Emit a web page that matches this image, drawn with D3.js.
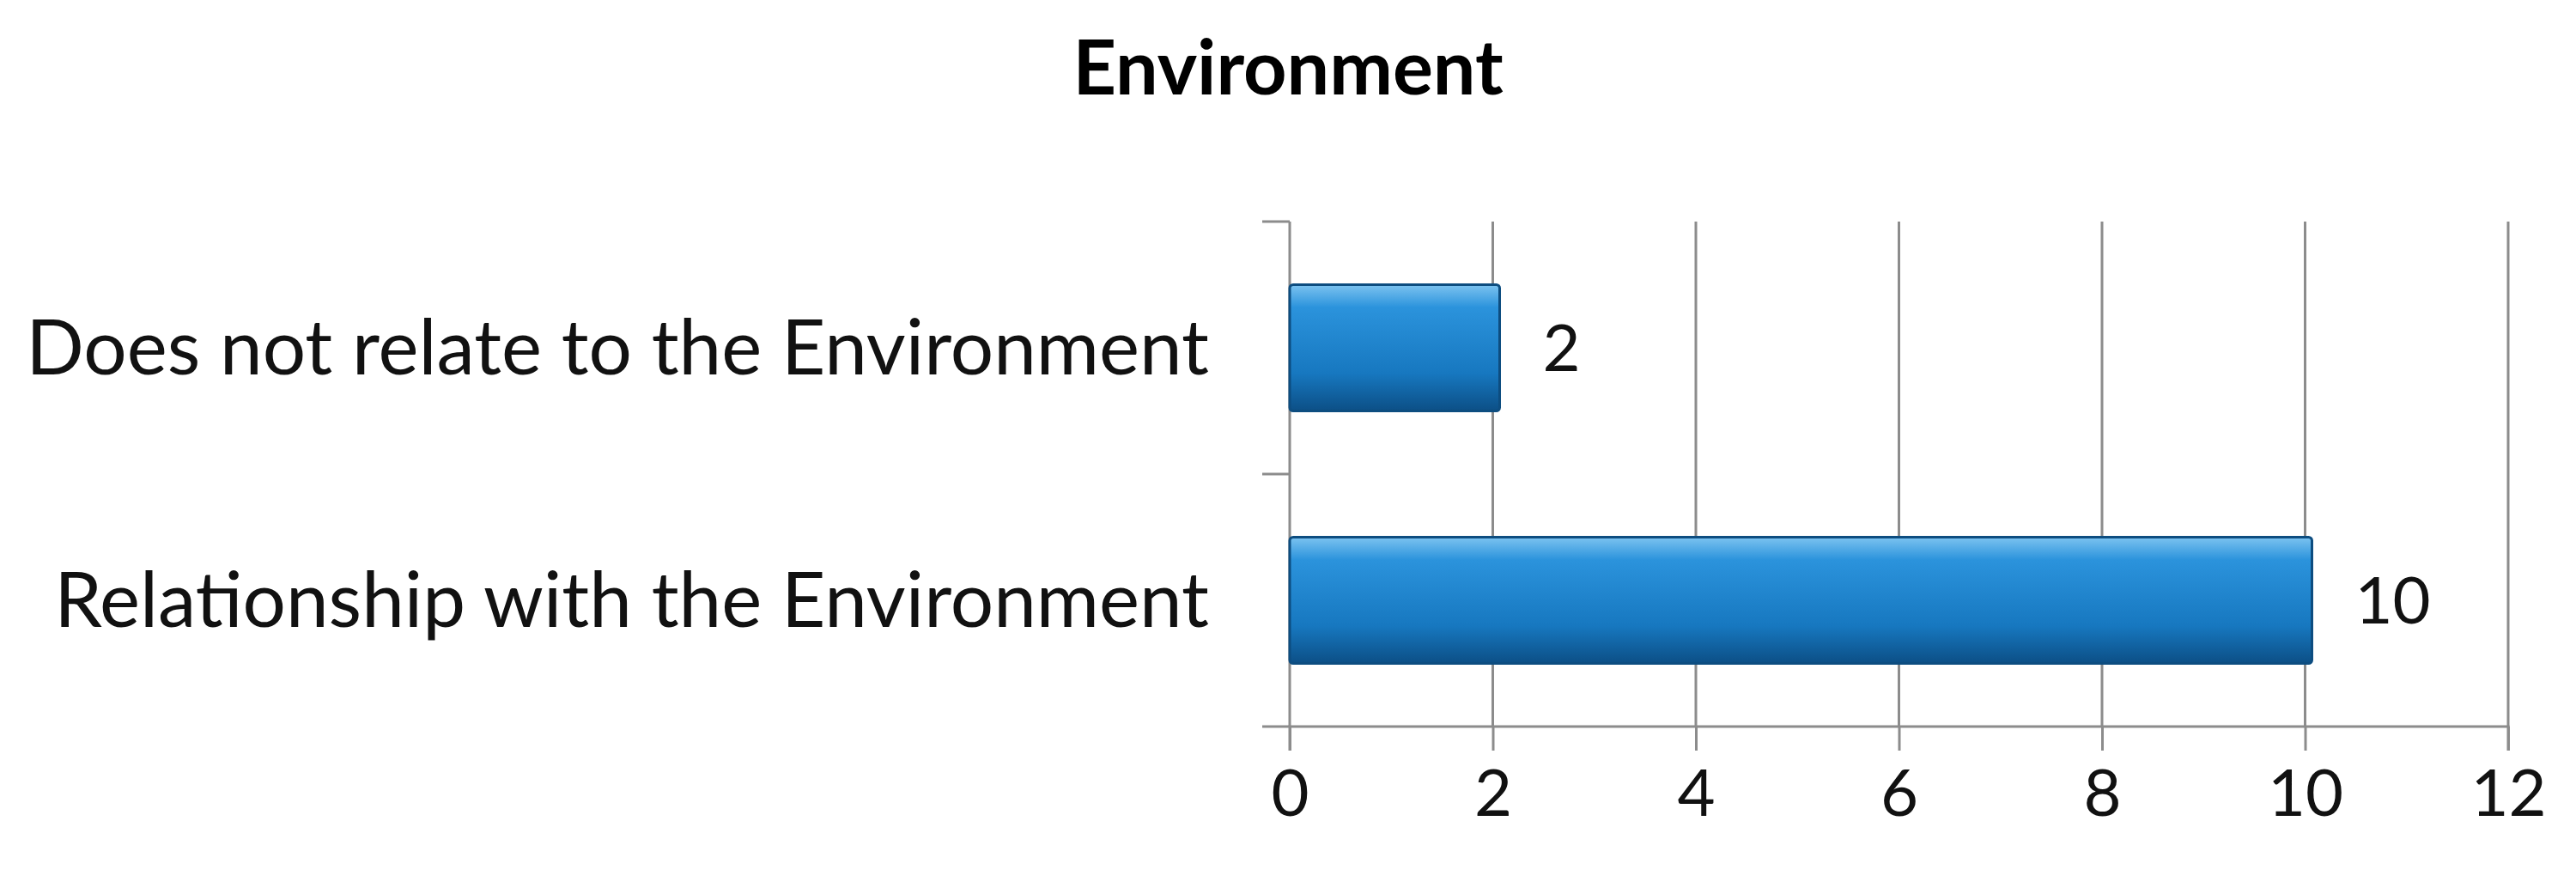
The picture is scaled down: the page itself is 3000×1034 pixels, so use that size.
<!DOCTYPE html>
<html><head><meta charset="utf-8">
<script src="https://cdn.jsdelivr.net/npm/d3@7"></script>
<style>body{margin:0;background:#fff}text{font-family:Lato,"Open Sans",sans-serif}</style>
</head><body>
<svg id="c" width="3000" height="1034"></svg>
<script>
var categories = ['Does not relate to the Environment', 'Relationship with the Environment'];
var values = [2, 10];
var xTicks = [0, 2, 4, 6, 8, 10, 12];

var svg = d3.select('#c');
var margin = {left: 1502, right: 79, top: 258, bottom: 188};
var W = 3000, H = 1034;

var x = d3.scaleLinear().domain([0, 12]).range([margin.left, W - margin.right]);
var y = d3.scaleBand().domain(categories).range([margin.top, H - margin.bottom]).paddingInner(0.5).paddingOuter(0.25);

var defs = svg.append('defs');
var g = defs.append('linearGradient').attr('id', 'bar').attr('x1', 0).attr('y1', 0).attr('x2', 0).attr('y2', 1);
g.append('stop').attr('offset', '0%').attr('stop-color', '#7cc3f0');
g.append('stop').attr('offset', '18%').attr('stop-color', '#2b93dc');
g.append('stop').attr('offset', '70%').attr('stop-color', '#1778c0');
g.append('stop').attr('offset', '100%').attr('stop-color', '#0c4f86');

svg.append('text').attr('x', 1500).attr('y', 110).attr('text-anchor', 'middle')
    .attr('font-size', 88).attr('font-weight', 'bold').text('Environment');

// gridlines
svg.append('g').selectAll('line').data(xTicks.slice(1)).enter().append('line')
    .attr('x1', x).attr('x2', x).attr('y1', margin.top).attr('y2', H - margin.bottom)
    .attr('stroke', '#8c8c8c').attr('stroke-width', 3);

var xAxis = svg.append('g').attr('transform', 'translate(0,' + (H - margin.bottom) + ')')
    .call(d3.axisBottom(x).tickValues(xTicks).tickSize(28).tickPadding(22));
xAxis.selectAll('line,path').attr('stroke', '#8c8c8c').attr('stroke-width', 3);
xAxis.select('path').attr('d', 'M' + x(0) + ',28V0H' + x(12) + 'V28');
xAxis.selectAll('text').attr('font-size', 76).attr('fill', '#111').attr('font-family', 'Lato');

// y axis
var yl = svg.append('g');
yl.append('line').attr('x1', x(0)).attr('x2', x(0)).attr('y1', margin.top).attr('y2', H - margin.bottom)
    .attr('stroke', '#8c8c8c').attr('stroke-width', 3);
var yTickPos = [margin.top, (margin.top + H - margin.bottom) / 2, H - margin.bottom];
yl.selectAll('.t').data(yTickPos).enter().append('line')
    .attr('x1', x(0) - 32).attr('x2', x(0)).attr('y1', function(d) { return d; }).attr('y2', function(d) { return d; })
    .attr('stroke', '#8c8c8c').attr('stroke-width', 3);

svg.append('g').selectAll('rect').data(values).enter().append('rect')
    .attr('x', x(0)).attr('y', function(d, i) { return y(categories[i]); })
    .attr('width', function(d) { return x(d) - x(0) + 8; }).attr('height', y.bandwidth())
    .attr('fill', 'url(#bar)').attr('stroke', '#0d4d80').attr('stroke-width', 3).attr('rx', 4);

svg.append('g').selectAll('text').data(values).enter().append('text')
    .attr('x', function(d) { return x(d) + 58; })
    .attr('y', function(d, i) { return y(categories[i]) + y.bandwidth() / 2; })
    .attr('dy', '0.35em').attr('font-size', 76).attr('fill', '#111').text(function(d) { return d; });

svg.append('g').selectAll('text').data(categories).enter().append('text')
    .attr('x', 1408).attr('y', function(d) { return y(d) + y.bandwidth() / 2; })
    .attr('dy', '0.35em').attr('text-anchor', 'end').attr('font-size', 89).attr('fill', '#111').text(function(d) { return d; });
</script>
</body></html>
